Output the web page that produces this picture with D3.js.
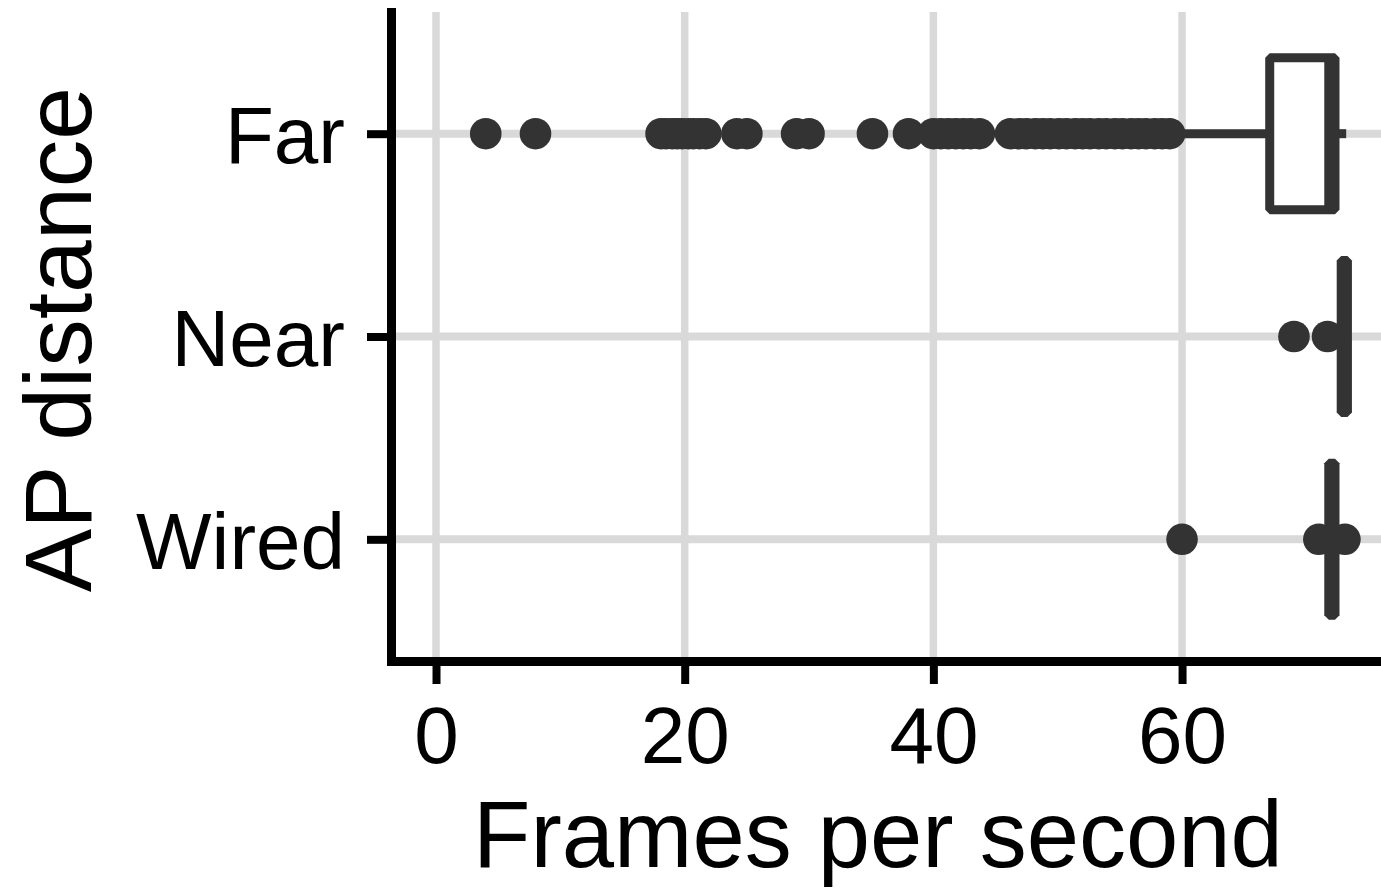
<!DOCTYPE html>
<html>
<head>
<meta charset="utf-8">
<script src="https://cdn.jsdelivr.net/npm/d3@7"></script>
<style>
  html, body { margin: 0; padding: 0; background: #fff; }
  svg { display: block; }
  text { font-family: "Liberation Sans", Arial, sans-serif; }
</style>
</head>
<body>
<svg id="chart" width="1381" height="889"></svg>
<script>
// Categories, top to bottom
const categories = ["Far", "Near", "Wired"];

// Box summaries (frames per second)
const q1Values      = [67.05, 72.8, 71.8];
const medianValues  = [71.8, 73.0, 72.0];
const q3Values      = [72.3, 73.3, 72.3];
const whiskerLow    = [60.0, 72.8, 71.8];
const whiskerHigh   = [73.2, 73.3, 72.3];

// Outlying measurements per category
const farOutliers = [4, 8, 18.1, 18.5, 19, 19.4, 19.8, 20.3, 20.7, 21.2, 21.7,
  24.2, 25, 29, 30, 35.1, 38, 40, 40.6, 41.2, 41.8, 42.4, 43, 43.7,
  46.2, 46.9, 47.5, 48.2, 48.8, 49.4, 50.1, 50.7, 51.4, 52, 52.6, 53.3,
  53.9, 54.6, 55.2, 55.9, 56.5, 57.1, 57.8, 58.4, 59];
const nearOutliers = [69.0, 71.7];
const wiredOutliers = [60.0, 71.0, 73.1];
const outliers = [farOutliers, nearOutliers, wiredOutliers];

// Axis ticks and titles
const xTicks = [0, 20, 40, 60];
const xTitle = "Frames per second";
const yTitle = "AP distance";

const W = 1381, H = 889;
const panel = { left: 391, right: 1381, top: 12, bottom: 661 };

const svg = d3.select("#chart");

const x = d3.scaleLinear().domain([-3.62, 76.0]).range([panel.left, panel.right]);
const y = d3.scalePoint().domain(categories).range([panel.top, panel.bottom]).padding(0.6);
const boxH = y.step() * 0.75;

const ink = "#333333";
const gridColor = "#d9d9d9";

// Grid
const grid = svg.append("g");
grid.selectAll("line.vx").data(xTicks).join("line")
  .attr("x1", d => x(d)).attr("x2", d => x(d))
  .attr("y1", panel.top).attr("y2", panel.bottom)
  .attr("stroke", gridColor).attr("stroke-width", 7.5);
grid.selectAll("line.hy").data(categories).join("line")
  .attr("x1", panel.left).attr("x2", panel.right)
  .attr("y1", d => y(d)).attr("y2", d => y(d))
  .attr("stroke", gridColor).attr("stroke-width", 8);

// Boxplots
const stats = categories.map((c, i) => ({
  cat: c, q1: q1Values[i], med: medianValues[i], q3: q3Values[i],
  lo: whiskerLow[i], hi: whiskerHigh[i], out: outliers[i]
}));

const marks = svg.append("g");
stats.forEach(s => {
  const cy = y(s.cat);
  const g = marks.append("g");
  // outliers
  g.selectAll("circle").data(s.out).join("circle")
    .attr("cx", d => x(d)).attr("cy", cy).attr("r", 15.8)
    .attr("fill", ink);
  // whiskers
  g.append("line").attr("x1", x(s.lo)).attr("x2", x(s.q1))
    .attr("y1", cy).attr("y2", cy).attr("stroke", ink).attr("stroke-width", 9);
  g.append("line").attr("x1", x(s.q3)).attr("x2", x(s.hi))
    .attr("y1", cy).attr("y2", cy).attr("stroke", ink).attr("stroke-width", 9);
  // box
  g.append("rect")
    .attr("x", x(s.q1)).attr("width", Math.max(0, x(s.q3) - x(s.q1)))
    .attr("y", cy - boxH / 2).attr("height", boxH)
    .attr("fill", "#fff").attr("stroke", ink).attr("stroke-width", 9)
    .attr("stroke-linejoin", "bevel");
  // median
  g.append("line").attr("x1", x(s.med)).attr("x2", x(s.med))
    .attr("y1", cy - boxH / 2).attr("y2", cy + boxH / 2)
    .attr("stroke", ink).attr("stroke-width", 9);
});

// Axes
const xAxis = svg.append("g")
  .attr("transform", `translate(0,${panel.bottom})`)
  .call(d3.axisBottom(x).tickValues(xTicks).tickSize(23).tickSizeOuter(0).tickPadding(22));
const yAxis = svg.append("g")
  .attr("transform", `translate(${panel.left},0)`)
  .call(d3.axisLeft(y).tickSize(24).tickSizeOuter(0).tickPadding(22));

[xAxis, yAxis].forEach(a => {
  a.select(".domain").attr("stroke", "#000").attr("stroke-width", 9)
    .attr("stroke-linecap", "square");
  a.selectAll(".tick line").attr("stroke", "#000").attr("stroke-width", 8);
  a.selectAll(".tick text").attr("fill", "#000").attr("font-size", 80)
    .attr("font-family", "'Liberation Sans', Arial, sans-serif");
});
yAxis.selectAll(".tick text").attr("dy", "0.36em");

// Axis titles
svg.append("text")
  .attr("x", (panel.left + panel.right) / 2 - 8).attr("y", 867)
  .attr("text-anchor", "middle").attr("font-size", 94).attr("fill", "#000")
  .text(xTitle);
svg.append("text")
  .attr("transform", `translate(91,${(panel.top + panel.bottom) / 2 + 3}) rotate(-90)`)
  .attr("text-anchor", "middle").attr("font-size", 95).attr("fill", "#000")
  .text(yTitle);
</script>
</body>
</html>
